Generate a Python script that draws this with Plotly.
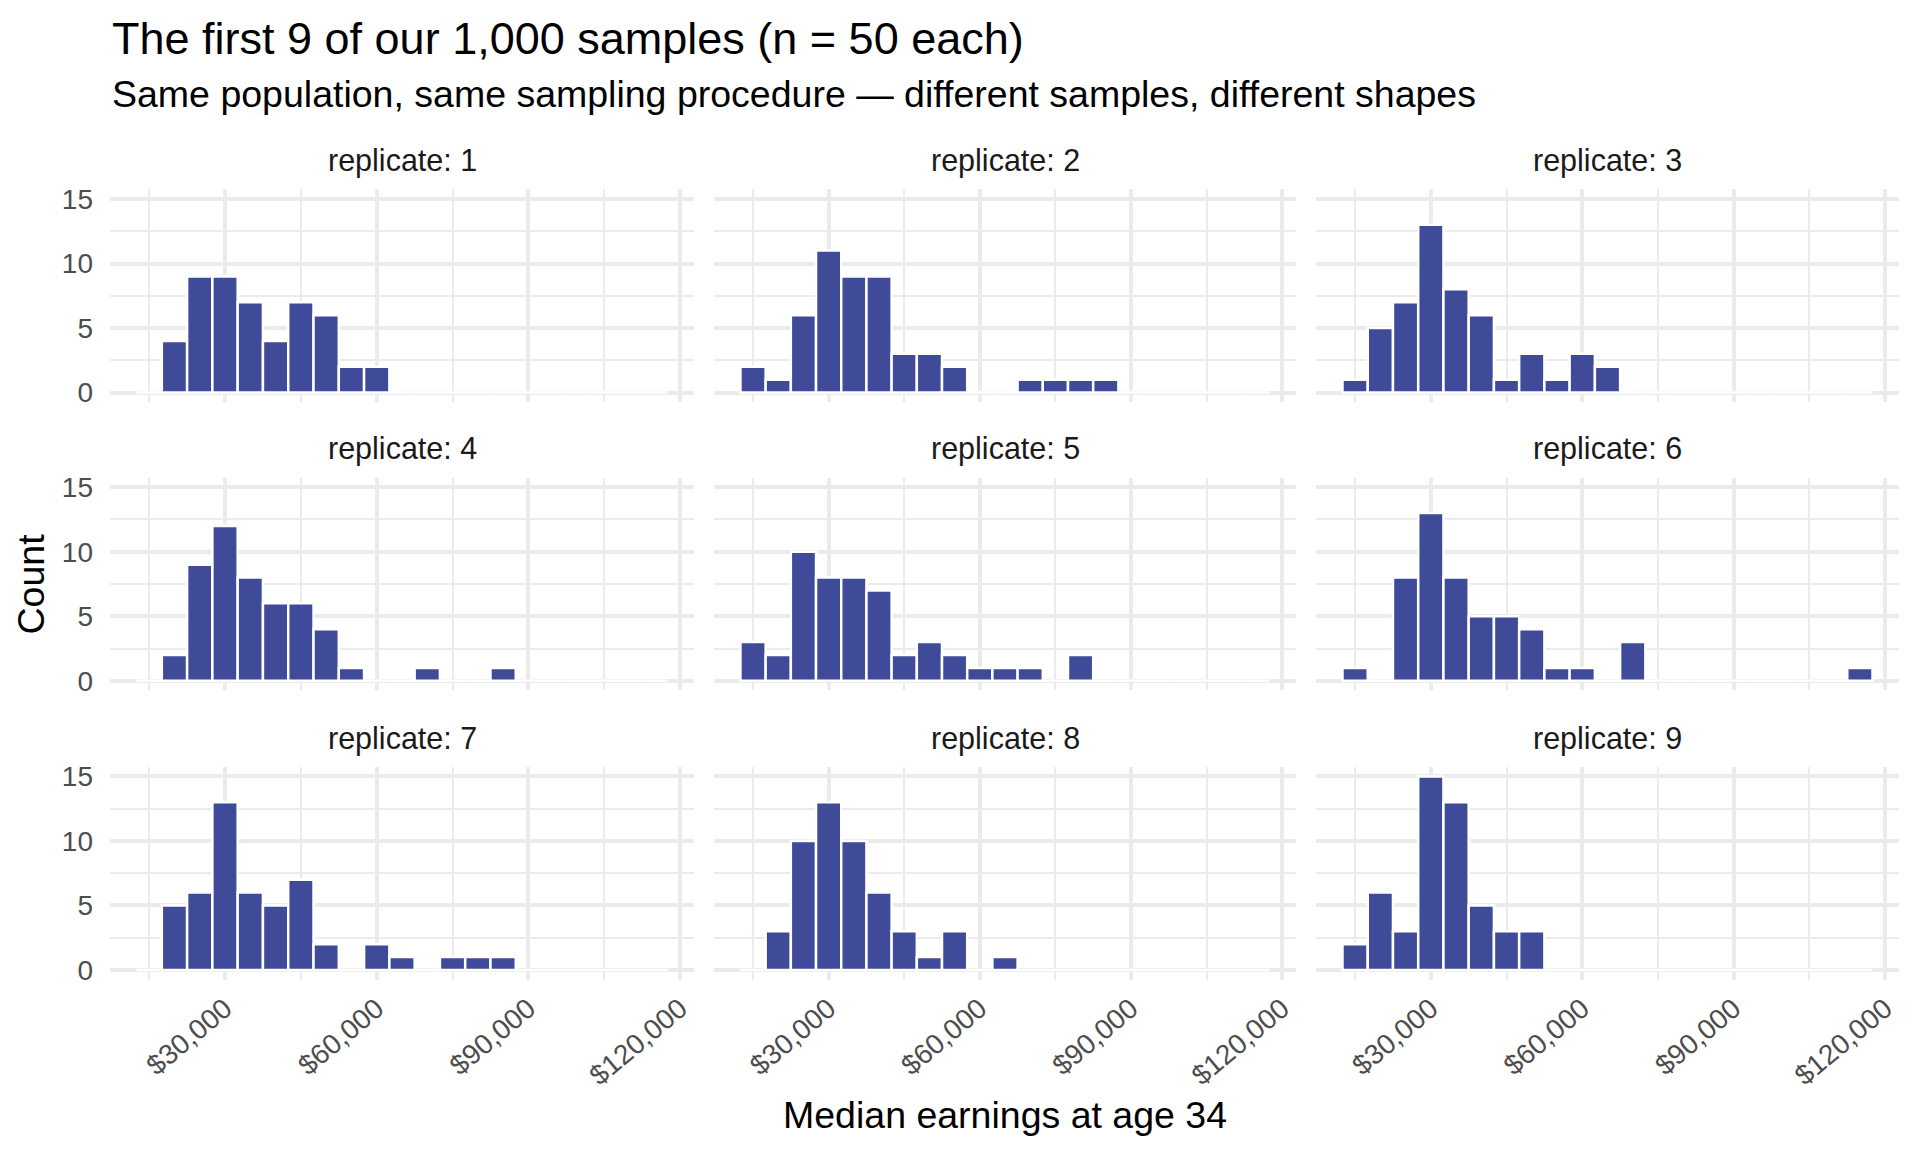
import plotly.graph_objects as go

# histogram bins (centre of each $5,000 bin) shared by every replicate
bin_centers = [15000, 20000, 25000, 30000, 35000, 40000, 45000, 50000, 55000, 60000, 65000,
               70000, 75000, 80000, 85000, 90000, 95000, 100000, 105000, 110000, 115000]

rep1 = [0, 4, 9, 9, 7, 4, 7, 6, 2, 2, 0, 0, 0, 0, 0, 0, 0, 0, 0, 0, 0]
rep2 = [2, 1, 6, 11, 9, 9, 3, 3, 2, 0, 0, 1, 1, 1, 1, 0, 0, 0, 0, 0, 0]
rep3 = [1, 5, 7, 13, 8, 6, 1, 3, 1, 3, 2, 0, 0, 0, 0, 0, 0, 0, 0, 0, 0]
rep4 = [0, 2, 9, 12, 8, 6, 6, 4, 1, 0, 0, 1, 0, 0, 1, 0, 0, 0, 0, 0, 0]
rep5 = [3, 2, 10, 8, 8, 7, 2, 3, 2, 1, 1, 1, 0, 2, 0, 0, 0, 0, 0, 0, 0]
rep6 = [1, 0, 8, 13, 8, 5, 5, 4, 1, 1, 0, 3, 0, 0, 0, 0, 0, 0, 0, 0, 1]
rep7 = [0, 5, 6, 13, 6, 5, 7, 2, 0, 2, 1, 0, 1, 1, 1, 0, 0, 0, 0, 0, 0]
rep8 = [0, 3, 10, 13, 10, 6, 3, 1, 3, 0, 1, 0, 0, 0, 0, 0, 0, 0, 0, 0, 0]
rep9 = [2, 6, 3, 15, 13, 5, 3, 3, 0, 0, 0, 0, 0, 0, 0, 0, 0, 0, 0, 0, 0]

replicates = [rep1, rep2, rep3, rep4, rep5, rep6, rep7, rep8, rep9]
strip_labels = ["replicate: " + str(i + 1) for i in range(9)]

W, H = 1920, 1152
FONT = "Liberation Sans, Arial, Helvetica, sans-serif"
BAR = "#3F4A99"
GRID = "#EBEBEB"

# panel positions in pixels (left/right, top/bottom)
cols = [(102, 686), (706, 1288), (1308, 1891)]
rows = [(178, 393), (469, 684), (761, 976)]

def px_x(p):
    return p / W

def px_y(p):
    return 1 - p / H

fig = go.Figure()
annotations = []

for i, counts in enumerate(replicates):
    r, c = i // 3, i % 3
    n = "" if i == 0 else str(i + 1)
    fig.add_trace(go.Bar(x=bin_centers, y=counts, width=5000,
                         marker=dict(color=BAR, line=dict(color="white", width=2.5)),
                         xaxis="x" + n, yaxis="y" + n, showlegend=False))
    fig.layout["xaxis" + n] = dict(
        domain=[px_x(cols[c][0]), px_x(cols[c][1])], anchor="y" + n,
        range=[7250, 122750], dtick=30000, tick0=0,
        tickprefix="$", tickformat=",d", tickangle=-40,
        showticklabels=(r == 2), ticks="", showline=False, zeroline=False,
        showgrid=True, gridcolor=GRID, gridwidth=3.5,
        minor=dict(dtick=15000, tick0=0, showgrid=True, gridcolor=GRID, gridwidth=1.8),
        tickfont=dict(family=FONT, size=28, color="#4D4D4D"),
        ticklabelstandoff=6,
    )
    fig.layout["yaxis" + n] = dict(
        domain=[px_y(rows[r][1]), px_y(rows[r][0])], anchor="x" + n,
        range=[-0.75, 15.75], dtick=5, tick0=0,
        showticklabels=(c == 0), ticks="", showline=False, zeroline=False,
        showgrid=True, gridcolor=GRID, gridwidth=3.5,
        minor=dict(dtick=2.5, tick0=0, showgrid=True, gridcolor=GRID, gridwidth=1.8),
        tickfont=dict(family=FONT, size=28, color="#4D4D4D"),
        ticklabelstandoff=16,
    )
    annotations.append(dict(text=strip_labels[i], xref="paper", yref="paper",
                            x=px_x((cols[c][0] + cols[c][1]) / 2), y=px_y(rows[r][0] - 29),
                            xanchor="center", yanchor="middle", showarrow=False,
                            font=dict(family=FONT, size=30.5, color="#1A1A1A")))

annotations += [
    dict(text="The first 9 of our 1,000 samples (n = 50 each)", xref="paper", yref="paper",
         x=px_x(102), y=px_y(26), xanchor="left", yanchor="middle", showarrow=False,
         font=dict(family=FONT, size=45, color="black")),
    dict(text="Same population, same sampling procedure \u2014 different samples, different shapes",
         xref="paper", yref="paper", x=px_x(102), y=px_y(82), xanchor="left", yanchor="middle",
         showarrow=False, font=dict(family=FONT, size=37.5, color="black")),
    dict(text="Median earnings at age 34", xref="paper", yref="paper",
         x=px_x((cols[0][0] + cols[2][1]) / 2), y=px_y(1113), xanchor="center", yanchor="middle",
         showarrow=False, font=dict(family=FONT, size=37.5, color="black")),
    dict(text="Count", xref="paper", yref="paper", x=px_x(23), y=px_y((rows[0][0] + rows[2][1]) / 2),
         xanchor="center", yanchor="middle", textangle=-90, showarrow=False,
         font=dict(family=FONT, size=37.5, color="black")),
]

fig.update_layout(width=W, height=H, margin=dict(l=0, r=0, t=0, b=0),
                  paper_bgcolor="white", plot_bgcolor="white",
                  annotations=annotations, font=dict(family=FONT))

fig.write_html("out.html")
